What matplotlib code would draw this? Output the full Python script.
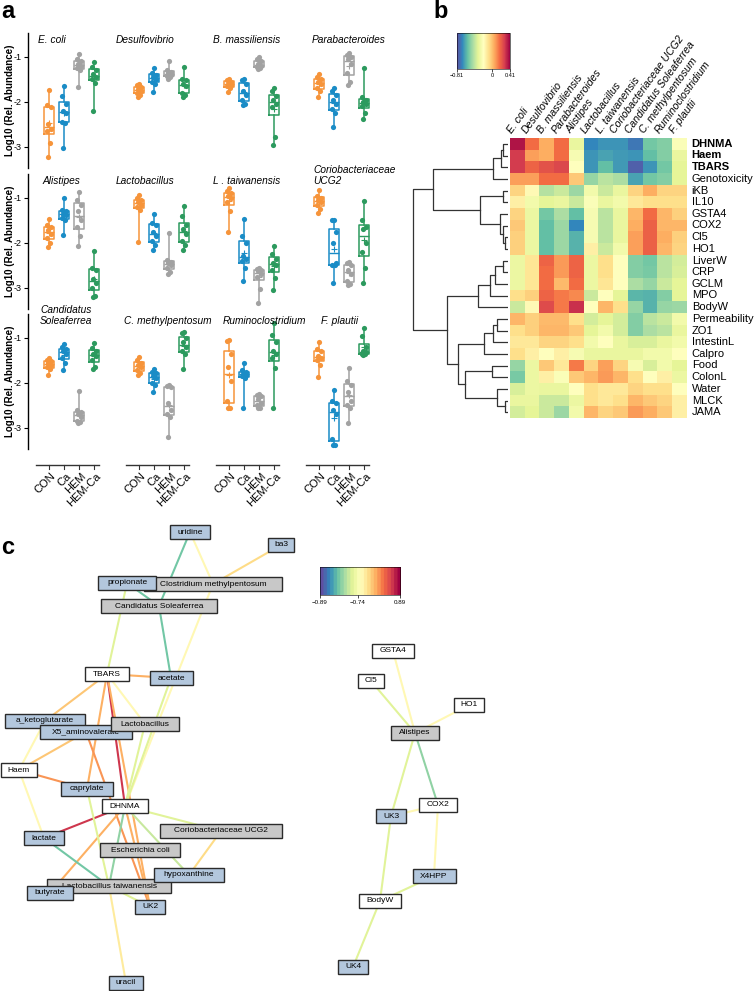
import numpy as np
import matplotlib
matplotlib.use('Agg')
import matplotlib.pyplot as plt
from matplotlib.patches import Rectangle
from matplotlib.colors import Normalize
from matplotlib.cm import ScalarMappable
from matplotlib import transforms

plt.rcParams['font.family'] = 'Liberation Sans'

W, H = 755, 991

# ---------------- panel a: log10 relative abundance per group ----------------
groups = ['CON', 'Ca', 'HEM', 'HEM-Ca']
group_colors = ['#f6943a', '#1a8cc6', '#a2a2a2', '#2c9a5e']

ecoli = [[-1.73, -2.08, -2.12, -2.5, -2.6, -2.65, -2.92, -3.22],
         [-1.64, -1.88, -2.05, -2.2, -2.25, -2.45, -2.48, -3.02],
         [-0.93, -1.05, -1.1, -1.15, -1.2, -1.25, -1.3, -1.67],
         [-1.12, -1.22, -1.3, -1.38, -1.45, -1.5, -1.58, -2.2]]
desulfo = [[-1.6, -1.62, -1.68, -1.72, -1.75, -1.8, -1.85, -1.9],
           [-1.25, -1.35, -1.4, -1.45, -1.5, -1.55, -1.6, -1.77],
           [-1.1, -1.3, -1.33, -1.36, -1.4, -1.42, -1.45, -1.5],
           [-1.22, -1.5, -1.52, -1.6, -1.65, -1.8, -1.85, -1.9]]
bmass = [[-1.5, -1.52, -1.55, -1.6, -1.62, -1.65, -1.7, -1.78],
         [-1.5, -1.52, -1.6, -1.75, -1.85, -1.95, -2.05, -2.08],
         [-1.0, -1.05, -1.1, -1.15, -1.2, -1.22, -1.25, -1.28],
         [-1.7, -1.75, -1.88, -1.95, -2.05, -2.12, -2.78, -2.96]]
parab = [[-1.37, -1.45, -1.5, -1.55, -1.6, -1.7, -1.75, -1.9],
         [-1.7, -1.75, -1.85, -1.95, -2.05, -2.15, -2.25, -2.55],
         [-0.92, -0.95, -1.0, -1.05, -1.15, -1.35, -1.55, -1.62],
         [-1.25, -1.9, -1.95, -2.0, -2.05, -2.1, -2.25, -2.38]]
alist = [[-1.47, -1.6, -1.65, -1.72, -1.8, -1.9, -2.0, -2.1],
         [-1.0, -1.27, -1.3, -1.35, -1.38, -1.45, -1.5, -1.82],
         [-0.88, -1.05, -1.15, -1.3, -1.5, -1.65, -1.85, -2.08],
         [-2.19, -2.55, -2.6, -2.8, -2.9, -3.0, -3.18, -3.2]]
lacto = [[-0.93, -1.0, -1.05, -1.1, -1.15, -1.2, -1.27, -1.97],
         [-1.36, -1.55, -1.6, -1.75, -1.85, -1.95, -2.05, -2.15],
         [-1.77, -2.38, -2.42, -2.45, -2.5, -2.55, -2.65, -2.7],
         [-1.18, -1.4, -1.6, -1.7, -1.8, -1.95, -2.05, -2.15]]
ltaiw = [[-0.78, -0.85, -0.9, -0.95, -1.0, -1.1, -1.3, -1.75],
         [-1.47, -1.85, -2.0, -2.3, -2.35, -2.4, -2.55, -2.85],
         [-2.55, -2.57, -2.6, -2.62, -2.7, -2.75, -3.02, -3.34],
         [-2.07, -2.25, -2.35, -2.45, -2.5, -2.6, -2.78, -3.04]]
corio = [[-0.82, -0.95, -1.0, -1.05, -1.1, -1.15, -1.25, -1.33],
         [-1.49, -1.5, -1.75, -2.0, -2.45, -2.5, -2.5, -2.9],
         [-2.42, -2.45, -2.5, -2.6, -2.7, -2.85, -2.92, -2.93],
         [-1.06, -1.5, -1.65, -1.7, -2.0, -2.2, -2.55, -2.9]]
cand = [[-1.45, -1.5, -1.52, -1.55, -1.6, -1.65, -1.7, -1.82],
        [-1.14, -1.2, -1.25, -1.3, -1.35, -1.45, -1.55, -1.72],
        [-2.19, -2.6, -2.65, -2.7, -2.75, -2.85, -2.88, -2.9],
        [-1.12, -1.22, -1.3, -1.35, -1.4, -1.5, -1.65, -1.7]]
cmeth = [[-1.43, -1.5, -1.55, -1.6, -1.65, -1.72, -1.78, -1.83],
         [-1.7, -1.75, -1.78, -1.85, -1.9, -2.0, -2.05, -2.21],
         [-2.05, -2.07, -2.1, -2.45, -2.6, -2.7, -2.75, -3.21],
         [-0.86, -0.9, -1.0, -1.1, -1.2, -1.3, -1.35, -1.69]]
rumino = [[-1.04, -1.08, -1.35, -1.65, -1.95, -2.4, -2.55, -2.55],
          [-1.56, -1.72, -1.76, -1.8, -1.82, -1.85, -1.9, -2.56],
          [-2.25, -2.28, -2.3, -2.35, -2.45, -2.5, -2.55, -2.56],
          [-0.67, -0.93, -1.1, -1.3, -1.35, -1.45, -1.67, -2.56]]
fplaut = [[-1.1, -1.25, -1.3, -1.4, -1.45, -1.5, -1.6, -1.86],
          [-2.16, -2.4, -2.45, -2.6, -2.7, -3.25, -3.38, -3.39],
          [-1.67, -1.95, -2.05, -2.2, -2.4, -2.5, -2.56, -2.9],
          [-0.78, -0.95, -1.2, -1.3, -1.32, -1.35, -1.36, -1.38]]

rows_a = [[('E. coli', ecoli), ('Desulfovibrio', desulfo),
           ('B. massiliensis', bmass), ('Parabacteroides', parab)],
          [('Alistipes', alist), ('Lactobacillus', lacto),
           ('L . taiwanensis', ltaiw), ('Coriobacteriaceae\nUCG2', corio)],
          [('Candidatus\nSoleaferrea', cand), ('C. methylpentosum', cmeth),
           ('Ruminoclostridium', rumino), ('F. plautii', fplaut)]]

# ---------------- panel b: correlation heatmap ----------------
heat_cols = ['E. coli', 'Desulfovibrio', 'B. massiliensis', 'Parabacteroides',
             'Alistipes', 'Lactobacillus', 'L. taiwanensis',
             'Coriobacteriaceae UCG2', 'Candidatus Soleaferrea',
             'C. methylpentosum', 'Ruminoclostridium', 'F. plautii']
heat_rows = ['DHNMA', 'Haem', 'TBARS', 'Genotoxicity', 'iKB', 'IL10', 'GSTA4',
             'COX2', 'Cl5', 'HO1', 'LiverW', 'CRP', 'GCLM', 'MPO', 'BodyW',
             'Permeability', 'ZO1', 'IntestinL', 'Calpro', 'Food', 'ColonL',
             'Water', 'MLCK', 'JAMA']
bold_rows = ['DHNMA', 'Haem', 'TBARS']
heat_vals = np.array([
    [0.37, 0.17, 0.04, 0.17, -0.30, -0.69, -0.66, -0.66, -0.72, -0.54, -0.51, -0.22],
    [0.29, 0.07, 0.04, 0.17, -0.24, -0.66, -0.63, -0.65, -0.66, -0.57, -0.51, -0.30],
    [0.29, 0.19, 0.23, 0.26, -0.20, -0.66, -0.57, -0.65, -0.77, -0.66, -0.54, -0.32],
    [0.07, 0.07, 0.17, 0.17, -0.02, -0.48, -0.41, -0.44, -0.63, -0.54, -0.51, -0.32],
    [-0.05, -0.18, -0.42, -0.38, -0.47, -0.26, -0.38, -0.30, -0.05, 0.04, -0.05, -0.05],
    [-0.14, -0.26, -0.32, -0.30, -0.38, -0.22, -0.30, -0.26, -0.11, -0.08, -0.08, -0.08],
    [-0.05, -0.29, -0.54, -0.44, -0.57, -0.24, -0.41, -0.30, 0.02, 0.17, 0.02, -0.04],
    [-0.02, -0.29, -0.57, -0.47, -0.69, -0.24, -0.41, -0.30, 0.04, 0.20, 0.02, 0.02],
    [-0.04, -0.29, -0.57, -0.47, -0.60, -0.24, -0.41, -0.30, 0.07, 0.20, 0.04, -0.04],
    [-0.04, -0.29, -0.57, -0.47, -0.60, -0.14, -0.38, -0.26, 0.07, 0.20, 0.02, -0.05],
    [-0.29, -0.10, 0.19, 0.08, 0.19, -0.29, -0.08, -0.20, -0.51, -0.54, -0.41, -0.36],
    [-0.29, -0.10, 0.17, 0.08, 0.19, -0.29, -0.08, -0.20, -0.51, -0.53, -0.41, -0.35],
    [-0.29, -0.10, 0.17, 0.01, 0.17, -0.29, -0.10, -0.20, -0.44, -0.48, -0.38, -0.32],
    [-0.08, -0.04, 0.19, 0.14, 0.11, -0.38, -0.20, -0.32, -0.59, -0.60, -0.51, -0.32],
    [-0.38, -0.18, 0.25, 0.14, 0.31, -0.20, 0.02, -0.08, -0.48, -0.60, -0.48, -0.47],
    [0.02, -0.04, 0.01, 0.01, -0.08, -0.36, -0.32, -0.36, -0.51, -0.41, -0.38, -0.26],
    [-0.08, -0.04, 0.02, 0.02, -0.02, -0.32, -0.26, -0.36, -0.51, -0.44, -0.41, -0.30],
    [-0.11, -0.11, -0.05, -0.05, -0.08, -0.26, -0.20, -0.30, -0.35, -0.35, -0.30, -0.26],
    [-0.08, -0.14, -0.20, -0.14, -0.24, -0.30, -0.30, -0.30, -0.30, -0.26, -0.26, -0.20],
    [-0.48, -0.29, -0.02, -0.11, 0.14, -0.05, 0.07, -0.05, -0.24, -0.35, -0.26, -0.32],
    [-0.53, -0.29, -0.14, -0.22, -0.02, 0.02, 0.08, 0.02, -0.08, -0.20, -0.14, -0.29],
    [-0.35, -0.29, -0.30, -0.30, -0.20, -0.08, -0.11, -0.11, -0.05, -0.08, -0.08, -0.20],
    [-0.30, -0.30, -0.38, -0.38, -0.29, -0.08, -0.11, -0.08, 0.02, -0.02, -0.05, -0.14],
    [-0.36, -0.32, -0.38, -0.47, -0.26, 0.02, -0.05, -0.02, 0.08, 0.04, -0.02, -0.14]])
heat_range = (-0.81, 0.41)
heat_ticks = [-0.81, 0, 0.41]

# row dendrogram: (child a, child b, height); leaves 0..23, merges 24..
row_linkage = [(0, 1, 0.5), (24, 2, 0.7), (25, 3, 1.5), (4, 5, 0.5), (8, 9, 0.3),
               (7, 28, 0.5), (6, 29, 0.8), (27, 30, 2.8), (26, 31, 7.5),
               (10, 11, 0.5), (33, 12, 1.3), (34, 13, 1.8), (35, 14, 3.0),
               (15, 16, 1.1), (37, 17, 1.5), (38, 18, 2.4), (19, 20, 1.6),
               (22, 23, 0.3), (21, 41, 1.1), (40, 42, 4.3), (39, 43, 5.0),
               (36, 44, 6.1), (32, 45, 9.5)]

# ---------------- panel c: correlation network ----------------
clinical = ['TBARS', 'Haem', 'DHNMA', 'Cl5', 'GSTA4', 'HO1', 'COX2', 'BodyW']
taxa = ['Clostridium methylpentosum', 'Candidatus Soleaferrea', 'Lactobacillus',
        'Coriobacteriaceae UCG2', 'Escherichia coli', 'Lactobacillus taiwanensis',
        'Alistipes']
net_edges = [
    ('uridine', 'Candidatus Soleaferrea', -0.82),
    ('uridine', 'Clostridium methylpentosum', -0.57),
    ('ba3', 'Clostridium methylpentosum', -0.35),
    ('propionate', 'Candidatus Soleaferrea', -0.82),
    ('propionate', 'TBARS', -0.76),
    ('Candidatus Soleaferrea', 'acetate', -0.82),
    ('Clostridium methylpentosum', 'DHNMA', -0.57),
    ('TBARS', 'acetate', -0.11),
    ('TBARS', 'a_ketoglutarate', -0.26),
    ('TBARS', 'caprylate', -0.11),
    ('TBARS', 'Lactobacillus', -0.59),
    ('TBARS', 'DHNMA', 0.58),
    ('TBARS', 'UK2', -0.04),
    ('Haem', 'X5_aminovalerate', -0.26),
    ('Haem', 'a_ketoglutarate', -0.59),
    ('Haem', 'caprylate', 0.03),
    ('Haem', 'lactate', -0.59),
    ('X5_aminovalerate', 'UK2', 0.03),
    ('acetate', 'DHNMA', -0.77),
    ('Lactobacillus', 'DHNMA', -0.76),
    ('DHNMA', 'lactate', 0.58),
    ('DHNMA', 'butyrate', -0.11),
    ('DHNMA', 'Coriobacteriaceae UCG2', -0.76),
    ('DHNMA', 'hypoxanthine', -0.78),
    ('DHNMA', 'Lactobacillus taiwanensis', -0.80),
    ('DHNMA', 'UK2', -0.04),
    ('caprylate', 'Lactobacillus taiwanensis', -0.76),
    ('lactate', 'Lactobacillus taiwanensis', -0.82),
    ('Coriobacteriaceae UCG2', 'hypoxanthine', -0.29),
    ('Lactobacillus taiwanensis', 'uracil', -0.45),
    ('Lactobacillus taiwanensis', 'UK2', -0.76),
    ('Cl5', 'Alistipes', -0.76),
    ('GSTA4', 'Alistipes', -0.59),
    ('HO1', 'Alistipes', -0.59),
    ('Alistipes', 'UK3', -0.76),
    ('Alistipes', 'COX2', -0.81),
    ('COX2', 'UK3', -0.59),
    ('COX2', 'X4HPP', -0.59),
    ('X4HPP', 'BodyW', -0.76),
    ('UK3', 'BodyW', -0.76),
    ('BodyW', 'UK4', -0.76)]
edge_ticks = [-0.89, -0.74, 0.89]

# node layout in figure pixels, listed bottom-to-top in drawing order
node_layout = {
    'uridine': (190, 532), 'ba3': (281, 545),
    'Clostridium methylpentosum': (213, 584), 'propionate': (127, 583),
    'Candidatus Soleaferrea': (159, 606), 'TBARS': (107, 674),
    'acetate': (171, 678), 'a_ketoglutarate': (45, 721),
    'X5_aminovalerate': (86, 732), 'Lactobacillus': (145, 724),
    'Haem': (19, 770), 'caprylate': (87, 789), 'DHNMA': (125, 806),
    'Coriobacteriaceae UCG2': (221, 831), 'lactate': (44, 838),
    'Escherichia coli': (140, 850), 'Lactobacillus taiwanensis': (109, 886),
    'hypoxanthine': (189, 875), 'butyrate': (50, 893), 'UK2': (150, 907),
    'uracil': (126, 983),
    'GSTA4': (393, 651), 'Cl5': (371, 681), 'HO1': (469, 705),
    'Alistipes': (415, 733), 'COX2': (438, 805), 'UK3': (391, 816),
    'X4HPP': (434, 876), 'BodyW': (380, 901), 'UK4': (353, 967)}

# ======================================================================
fig = plt.figure(figsize=(W / 100, H / 100), dpi=100)


def px_axes(x, y, w, h, **kw):
    return fig.add_axes([x / W, 1 - (y + h) / H, w / W, h / H], **kw)


# ---- network layer (pixel coordinates) ----
net = px_axes(0, 0, W, H, zorder=0)
net.set_xlim(0, W)
net.set_ylim(H, 0)
net.axis('off')

edge_cmap = plt.get_cmap('Spectral_r', 24)
edge_pos = [0, 0.475, 1]
for a, b, r in net_edges:
    (x1, y1), (x2, y2) = node_layout[a], node_layout[b]
    net.plot([x1, x2], [y1, y2], color=edge_cmap(np.interp(r, edge_ticks, edge_pos)),
             lw=1.5, zorder=1, solid_capstyle='butt')

renderer = fig.canvas.get_renderer()
for k, name in enumerate(node_layout):
    x, y = node_layout[name]
    if name in clinical:
        fc = 'white'
    elif name in taxa:
        fc = '#c8c8c8'
    else:
        fc = '#b3c7dd'
    t = net.text(x, y, name, fontsize=6, ha='center', va='center', zorder=3 + 2 * k)
    tw = t.get_window_extent(renderer=renderer).width
    bw, bh = 1.2 * tw + 10, 14
    net.add_patch(Rectangle((x - bw / 2, y - bh / 2), bw, bh, fc=fc, ec='#2b2b2b',
                            lw=1.0, zorder=2 + 2 * k))

cax_c = px_axes(320, 567, 80, 28)
cax_c.imshow(np.linspace(0, 1, 256)[None, :], aspect='auto', cmap=edge_cmap,
             extent=(0, 1, 0, 1))
cax_c.set_yticks([])
cax_c.set_xticks(edge_pos)
cax_c.set_xticklabels(['\u22120.89', '\u22120.74', '0.89'])
cax_c.tick_params(axis='x', labelsize=4.5, length=2, width=0.5, pad=1.5)
for s in cax_c.spines.values():
    s.set_linewidth(0.4)

# ---- panel a ----
row_tops = [33, 174, 314]
title_dx = [[-0.73, -1.53, -1.07, -0.47],
            [-0.4, -1.53, -1.07, -0.4],
            [-0.6, -1.0, -0.4, 0.13]]
jitter = np.array([0.0, -0.13, 0.11, -0.05, 0.15, -0.16, 0.06, -0.09])

for r, row in enumerate(rows_a):
    ax = px_axes(28, row_tops[r], 351, 135)
    tr = transforms.blended_transform_factory(ax.transData, ax.transAxes)
    for g, (name, data) in enumerate(row):
        for i in range(4):
            pos = g * 6 + i
            col = group_colors[i]
            vals = np.array(data[i])
            ax.boxplot([vals], positions=[pos], widths=0.62, whis=(0, 100),
                       showcaps=False, showfliers=False, showmeans=True,
                       manage_ticks=False,
                       boxprops=dict(color=col, lw=1.1),
                       whiskerprops=dict(color=col, lw=1.1),
                       medianprops=dict(color=col, lw=1.0),
                       meanprops=dict(marker='+', markeredgecolor=col,
                                      markersize=4, markeredgewidth=0.8))
            ax.scatter(pos + jitter[:len(vals)], vals, s=14, color=col,
                       zorder=3, linewidths=0)
        ax.text(g * 6 + title_dx[r][g], 0.91, name, transform=tr, style='italic',
                fontsize=7.3, ha='left', va='bottom')
    ax.set_xlim(-1.4, 22.0)
    ax.set_ylim(-3.47, -0.47)
    ax.set_yticks([-1, -2, -3])
    ax.set_yticklabels(['-1', '-2', '-3'])
    ax.set_xticks([])
    for s in ['top', 'right', 'bottom']:
        ax.spines[s].set_visible(False)
    ax.spines['left'].set_linewidth(1.0)
    ax.tick_params(axis='y', labelsize=6.5, length=3, width=0.8, pad=1.5)
    ax.set_ylabel('Log10 (Rel. Abundance)', fontsize=7, fontweight='bold')
    ax.yaxis.set_label_coords(-0.037, 0.5)
    if r == 2:
        ya = -16 / 135
        for g in range(4):
            ax.plot([g * 6 - 0.85, g * 6 + 3.3], [ya, ya], transform=tr,
                    clip_on=False, color='#333333', lw=1.0)
            for i in range(4):
                pos = g * 6 + i
                ax.plot([pos, pos], [ya, ya - 4 / 135], transform=tr,
                        clip_on=False, color='#333333', lw=0.8)
                ax.text(pos + 0.1, ya - 6 / 135, groups[i], transform=tr,
                        rotation=45, ha='right', va='top',
                        rotation_mode='anchor', fontsize=8)

# ---- panel b ----
norm_b = Normalize(*heat_range)
hax = px_axes(510, 138, 177, 280)
hax.imshow(heat_vals, cmap='Spectral_r', norm=norm_b, aspect='auto',
           interpolation='nearest')
hax.axis('off')
for j, c in enumerate(heat_cols):
    hax.text(j - 0.25, -0.75, c, rotation=54, ha='left', va='bottom',
             rotation_mode='anchor', fontsize=7.6, style='italic')
for i, rname in enumerate(heat_rows):
    hax.text(len(heat_cols) - 0.5 + 0.32, i, rname, ha='left', va='center',
             fontsize=8, fontweight='bold' if rname in bold_rows else 'normal')

dax = px_axes(405, 138, 103, 280)
dax.set_xlim(10.3, 0)
dax.set_ylim(len(heat_rows), 0)
dax.axis('off')
coords = {i: (0.0, i + 0.5) for i in range(len(heat_rows))}
for k, (a, b, h) in enumerate(row_linkage):
    xa, ya = coords[a]
    xb, yb = coords[b]
    dax.plot([xa, h, h, xb], [ya, ya, yb, yb], color='#333333', lw=0.9)
    coords[len(heat_rows) + k] = (h, (ya + yb) / 2)

cax_b = px_axes(457, 33, 53, 36)
cb = fig.colorbar(ScalarMappable(norm=norm_b, cmap='Spectral_r'), cax=cax_b,
                  orientation='horizontal')
cb.set_ticks(heat_ticks)
cb.set_ticklabels(['\u22120.81', '0', '0.41'])
cb.ax.tick_params(labelsize=4, length=2, width=0.5, pad=1)
cb.outline.set_linewidth(0.4)

# ---- panel letters ----
fig.text(1 / W, 1 - 12 / H, 'a', fontsize=17, fontweight='bold', va='center')
fig.text(433 / W, 1 - 11 / H, 'b', fontsize=17, fontweight='bold', va='center')
fig.text(1 / W, 1 - 547 / H, 'c', fontsize=17, fontweight='bold', va='center')

fig.savefig('out.png', dpi=100)
